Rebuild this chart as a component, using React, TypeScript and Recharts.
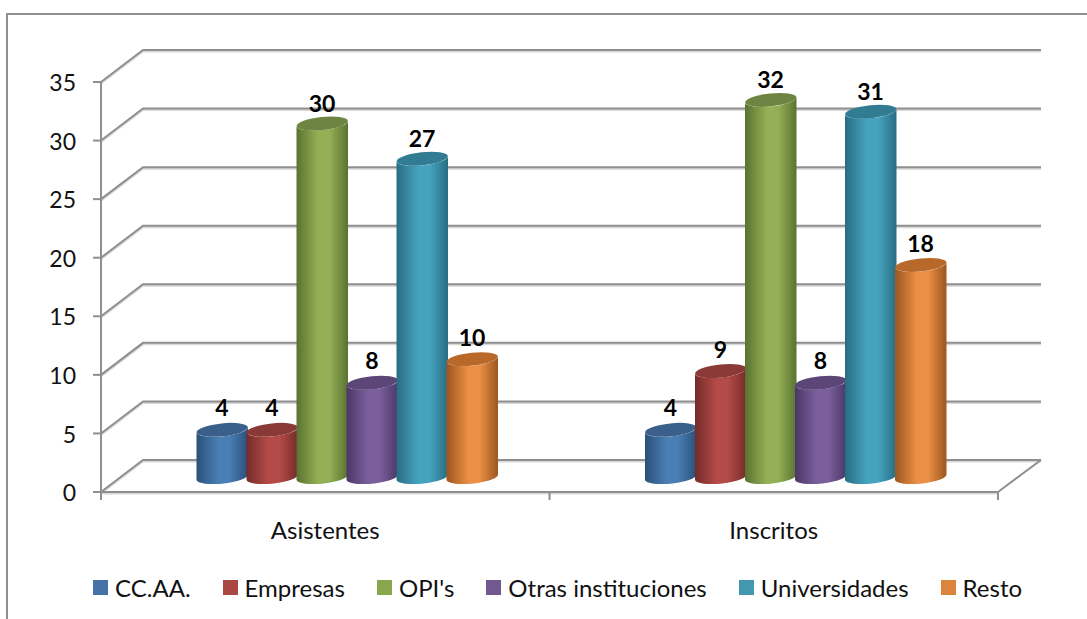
import React from "react";
import { BarChart, Bar, XAxis, YAxis, CartesianGrid, Legend, LabelList } from "recharts";

const categories = ["Asistentes", "Inscritos"];
const seriesNames = ["CC.AA.", "Empresas", "OPI's", "Otras instituciones", "Universidades", "Resto"];
const ccaa = [4, 4];
const empresas = [4, 9];
const opis = [30, 32];
const otras = [8, 8];
const universidades = [27, 31];
const resto = [10, 18];
const seriesValues = [ccaa, empresas, opis, otras, universidades, resto];
const yTicks = [0, 5, 10, 15, 20, 25, 30, 35];

const legendColors = ["#4572a7", "#aa4643", "#89a54e", "#71588f", "#4198af", "#db843d"];
const midColors = ["#4a7eb5", "#b44b48", "#93b056", "#7b5f9c", "#46a3bf", "#ea8f45"];
const darkColors = ["#2a5078", "#742b29", "#5a7230", "#4c3767", "#276d82", "#9c5620"];
const topColors = ["#3a5f8a", "#8a3a36", "#6e8442", "#5c4678", "#317c92", "#b8692a"];

const data = categories.map((name, i) => {
  const row: Record<string, string | number> = { name };
  seriesNames.forEach((s, k) => {
    row[s] = seriesValues[k][i];
  });
  return row;
});

const FONT = "Lato, 'Open Sans', sans-serif";
const GRID = "#8f8f8f";
const DEPTH_X = 42;
const DEPTH_Y = 32;

const GridLine = (props: any) => {
  const { x1, x2, y1, index } = props;
  const pts = `${x1},${y1} ${x1 + DEPTH_X},${y1 - DEPTH_Y} ${x2 + DEPTH_X + 1},${y1 - DEPTH_Y}`;
  const isBase = Math.abs(y1 - 492) < 3;
  const step = (x2 - x1) / categories.length;
  return (
    <g key={index}>
      <polyline points={pts} fill="none" stroke="#d8d8d8" strokeWidth={2} transform="translate(0,1.5)" />
      <polyline points={pts} fill="none" stroke={GRID} strokeWidth={2} />
      {isBase && (
        <g>
          <line x1={x1} y1={y1 + 1.5} x2={x2} y2={y1 + 1.5} stroke="#d8d8d8" strokeWidth={2} />
          <line x1={x2} y1={y1} x2={x2 + DEPTH_X + 1} y2={y1 - DEPTH_Y} stroke={GRID} strokeWidth={2} />
          {categories.map((_, i) => (
            <line key={i} x1={x1 + step * i} y1={y1} x2={x1 + step * i} y2={y1 + 8} stroke={GRID} strokeWidth={2} />
          ))}
          <line x1={x2} y1={y1} x2={x2} y2={y1 + 8} stroke={GRID} strokeWidth={2} />
        </g>
      )}
    </g>
  );
};

const makeCylinder = (k: number) => (props: any) => {
  const { x, y, width, height, index } = props;
  const dx = 21.5;
  const dy = -15;
  const stretch = 1.006;
  const left = x + dx;
  const right = left + width + 1.5;
  const cx = (left + right) / 2;
  const base = y + height + dy;
  const top = base - height * stretch;
  const rx = (right - left) / 2;
  const ry = 6.5;
  const tilt = 3;
  const id = `cyl-${k}-${index}`;
  const body = `M${left},${top + tilt} L${left},${base + tilt} A${rx},${ry} -6 0 0 ${right},${base - tilt} L${right},${top - tilt} A${rx},${ry} -6 0 1 ${left},${top + tilt} Z`;
  return (
    <g>
      <defs>
        <linearGradient id={id} x1="0" y1="0" x2="1" y2="0">
          <stop offset="0" stopColor={darkColors[k]} />
          <stop offset="0.42" stopColor={midColors[k]} />
          <stop offset="0.64" stopColor={midColors[k]} />
          <stop offset="1" stopColor={darkColors[k]} />
        </linearGradient>
      </defs>
      <path d={body} fill={`url(#${id})`} />
      <ellipse cx={cx} cy={top} rx={rx} ry={ry} transform={`rotate(-6 ${cx} ${top})`} fill={topColors[k]} />
    </g>
  );
};

const ValueLabel = (props: any) => {
  const { x, y, width, value } = props;
  return (
    <text
      x={x + width / 2 + 22}
      y={y - 15 - 23}
      textAnchor="middle"
      dominantBaseline="central"
      fontFamily={FONT}
      fontWeight={700}
      fontSize={23}
      fill="#000"
    >
      {value}
    </text>
  );
};

const LegendRow = ({ payload }: any) => (
  <div style={{ display: "flex", gap: 32, height: 29, fontFamily: FONT, fontSize: 24, lineHeight: "29px", color: "#111", whiteSpace: "nowrap" }}>
    {(payload || []).map((p: any) => (
      <div key={p.value} style={{ display: "flex", alignItems: "center", gap: 7 }}>
        <span style={{ width: 15, height: 15, background: p.color, display: "inline-block" }} />
        <span>{p.value}</span>
      </div>
    ))}
  </div>
);

export default function App() {
  return (
    <div style={{ position: "absolute", left: 0, top: 0, width: 1087, height: 619, background: "#fff", overflow: "hidden" }}>
      <div
        style={{
          position: "absolute",
          left: 6,
          top: 13,
          width: 1200,
          height: 800,
          borderLeft: "2px solid #8f8f8f",
          borderTop: "2px solid #8f8f8f",
        }}
      />
      <BarChart
        width={1087}
        height={619}
        data={data}
        margin={{ top: 82, right: 89, bottom: 0, left: 0 }}
        barSize={50}
        barGap={0}
        style={{ position: "absolute", left: 0, top: 0 }}
      >
        <CartesianGrid horizontal={(p: any) => <GridLine {...p} />} vertical={false} />
        <XAxis
          dataKey="name"
          height={98}
          tickLine={false}
          axisLine={{ stroke: GRID, strokeWidth: 2 }}
          tick={{ fontFamily: FONT, fontSize: 24, fill: "#111" }}
          tickMargin={24}
        />
        <YAxis
          width={101}
          domain={[0, 35]}
          ticks={yTicks}
          interval={0}
          tickSize={8}
          tickMargin={17}
          tickLine={{ stroke: GRID, strokeWidth: 2 }}
          axisLine={{ stroke: GRID, strokeWidth: 2 }}
          tick={{ fontFamily: FONT, fontSize: 23, fill: "#111", dy: 1 }}
        />
        {seriesNames.map((s, k) => (
          <Bar key={s} dataKey={s} fill={legendColors[k]} isAnimationActive={false} shape={makeCylinder(k)}>
            <LabelList dataKey={s} content={ValueLabel} />
          </Bar>
        ))}
        <Legend
          content={LegendRow}
          itemSorter={null}
          wrapperStyle={{ position: "absolute", left: 93, top: 573, width: "auto", bottom: "auto" }}
        />
      </BarChart>
    </div>
  );
}
